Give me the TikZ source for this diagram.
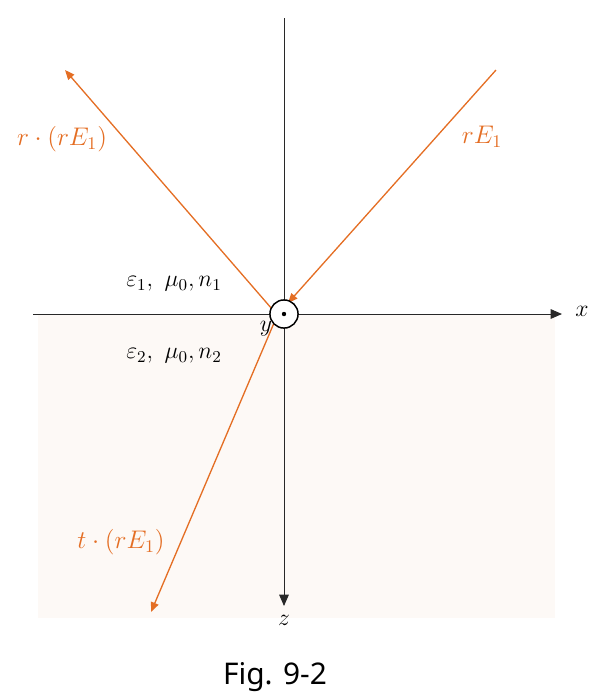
\RequirePackage{fix-cm}
\documentclass[tikz,border=0pt]{standalone}
\usepackage{amsmath,amssymb}
\usepackage{fontspec}
\newfontfamily\capfont{Noto Sans}
\usetikzlibrary{arrows.meta}
\definecolor{rayorange}{RGB}{228,110,36}
\definecolor{mediumfill}{RGB}{253,249,246}
\definecolor{axisgray}{RGB}{40,40,40}

\begin{document}
\begin{tikzpicture}[x=0.02cm,y=-0.02cm,>={Triangle[length=6.5pt,width=5.5pt]}]
            \tikzstyle{axis}=[->,axisgray,line width=0.55pt]
            \tikzstyle{ray}=[->,rayorange,line width=0.75pt,>={Triangle[length=5.5pt,width=4.5pt]}]
            \tikzstyle{raylabel}=[rayorange,font=\fontsize{14.5}{17}\selectfont]
            \tikzstyle{medlabel}=[font=\fontsize{13.5}{16}\selectfont]
            \tikzstyle{axislabel}=[font=\fontsize{13.5}{16}\selectfont]
            \useasboundingbox (0,0) rectangle (600,698);

            % lower medium
            \fill[mediumfill] (38,314) rectangle (555,618);

            \coordinate (O) at (284,314);
            \coordinate (x-start) at (33,314);
            \coordinate (x-end) at (562,314);
            \coordinate (z-start) at (284,18);
            \coordinate (z-end) at (284,606);
            \coordinate (inc-start) at (496,70);
            \coordinate (inc-end) at (288,303);
            \coordinate (ref-start) at (272,309);
            \coordinate (ref-end) at (65,70);
            \coordinate (tra-start) at (274,323);
            \coordinate (tra-end) at (151,612);

            \draw[axis] (x-start) -- (x-end);
            \draw[axis] (z-start) -- (z-end);
            \node[axislabel] (x-lab) at (582,311) {$x$};
            \node[axislabel] (z-lab) at (284,620) {$z$};

            \draw[ray] (inc-start) -- (inc-end);
            \draw[ray] (ref-start) -- (ref-end);
            \draw[ray] (tra-start) -- (tra-end);

            \node[circle,draw,fill=white,line width=0.85pt,minimum size=16pt,inner sep=0pt] (y-axis) at (O) {};
            \fill (O) circle (2.2);
            \node[axislabel] (y-lab) at (266,329) {$y$};

            \node[raylabel] (inc-lab) at (482,137) {$rE_1$};
            \node[raylabel] (ref-lab) at (62,139) {$r\cdot(rE_1)$};
            \node[raylabel] (tra-lab) at (121,542) {$t\cdot(rE_1)$};

            \node[medlabel] (med-1) at (174,284) {$\varepsilon_1,\ \mu_0, n_1$};
            \node[medlabel] (med-2) at (174,356) {$\varepsilon_2,\ \mu_0, n_2$};

            \node[font=\capfont\fontsize{17}{20}\selectfont] (caption) at (275,677) {Fig. 9-2};
        \end{tikzpicture}
\end{document}
